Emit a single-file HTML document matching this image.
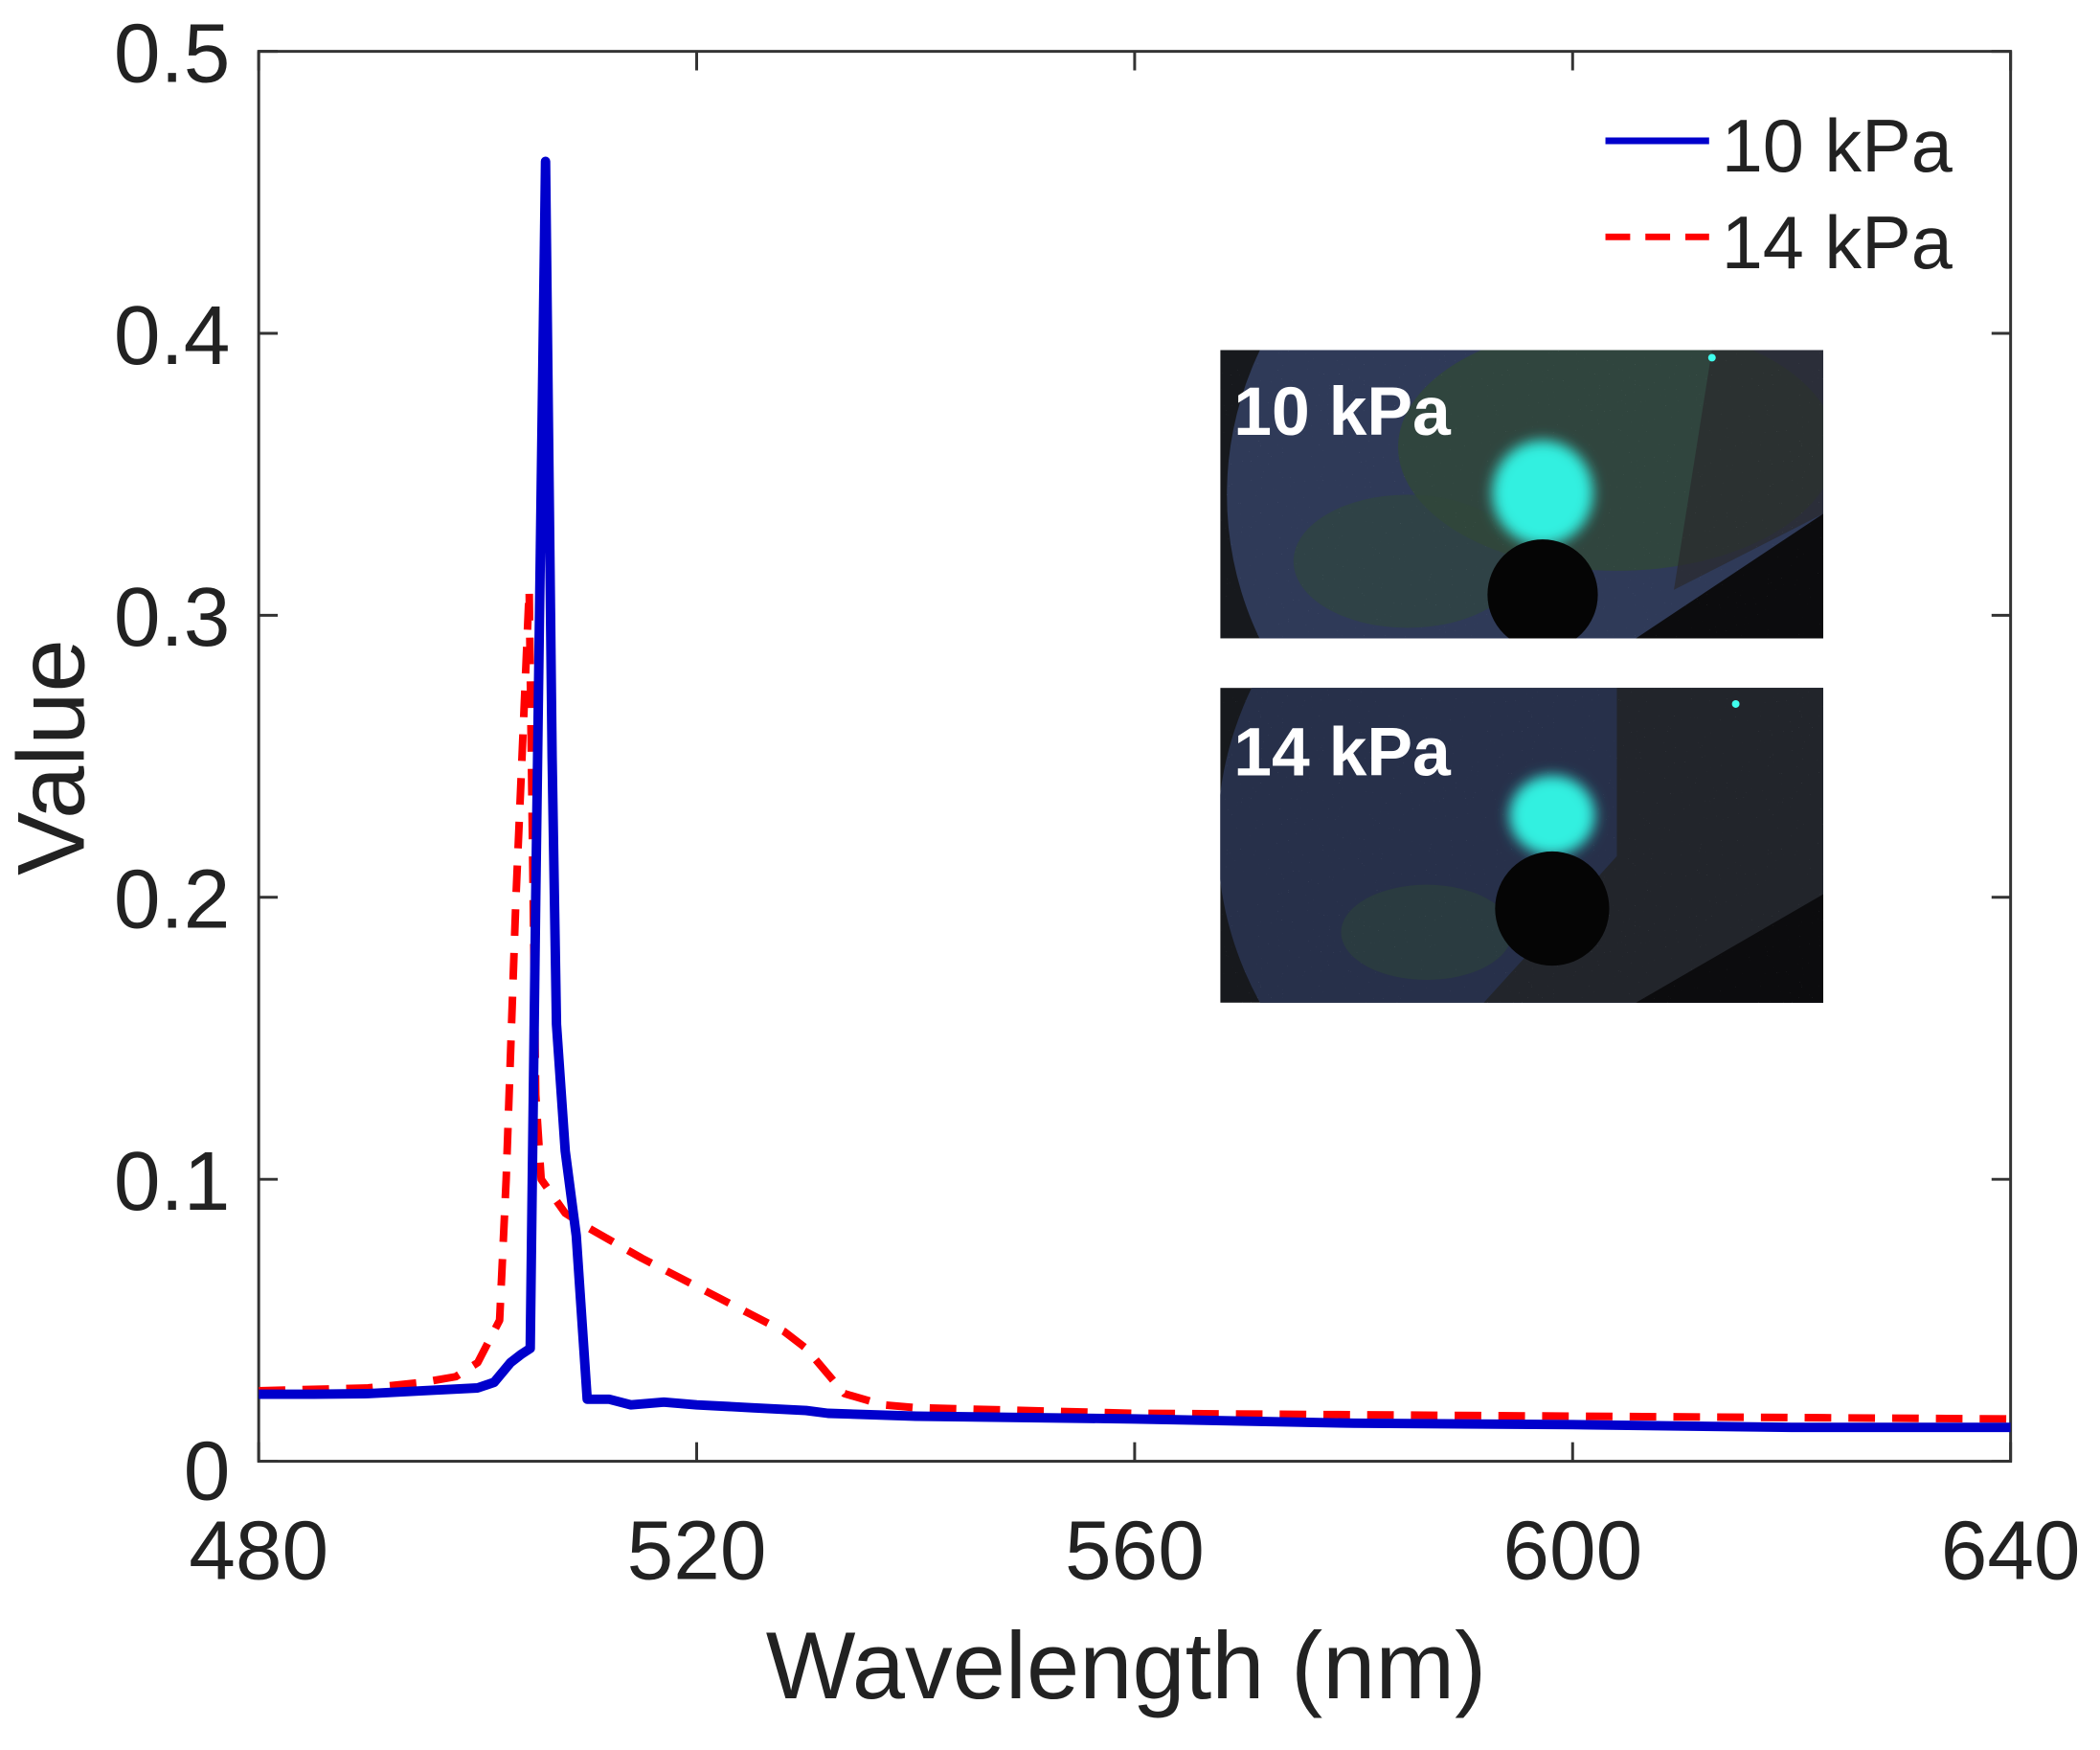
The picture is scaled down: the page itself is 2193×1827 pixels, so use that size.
<!DOCTYPE html>
<html><head><meta charset="utf-8"><style>
html,body{margin:0;padding:0;background:#fff}
svg{display:block}
text{font-family:"Liberation Sans",Arial,sans-serif}
</style></head><body>
<svg id="chart" width="2193" height="1827" viewBox="0 0 2208 1839" preserveAspectRatio="xMinYMin meet" xmlns="http://www.w3.org/2000/svg">
<defs>
<clipPath id="c1"><rect x="1283" y="368" width="634" height="303"/></clipPath>
<clipPath id="c2"><rect x="1283" y="723" width="634" height="331"/></clipPath>
<clipPath id="plotclip"><rect x="272" y="54" width="1842" height="1482"/></clipPath>
<filter id="blur" x="-50%" y="-50%" width="200%" height="200%"><feGaussianBlur stdDeviation="7"/></filter>
<filter id="noise"><feTurbulence type="fractalNoise" baseFrequency="0.9" numOctaves="1" seed="3"/><feColorMatrix values="0 0 0 0 1 0 0 0 0 1 0 0 0 0 1 0 0 0 6 -4.6"/></filter>
</defs>
<g id="axes"></g>
<g id="series" clip-path="url(#plotclip)"></g>

<g clip-path="url(#c1)">
  <rect x="1283" y="368" width="634" height="303" fill="#17191d"/>
  <circle cx="1640" cy="520" r="350" fill="#2f3a58"/>
  <ellipse cx="1700" cy="470" rx="230" ry="130" fill="#30483a" opacity="0.85"/>
  <ellipse cx="1480" cy="590" rx="120" ry="70" fill="#30483a" opacity="0.6"/>
  <polygon points="1720,671 1917,540 1917,671" fill="#0c0c0e"/>
  <polygon points="1800,368 1917,368 1917,540 1760,620" fill="#2a2a2c" opacity="0.7"/>
  <rect x="1283" y="368" width="634" height="303" filter="url(#noise)" opacity="0.5"/>
  <ellipse cx="1622" cy="518" rx="53" ry="55" fill="#30f0e0" filter="url(#blur)"/>
  <circle cx="1800" cy="376" r="4" fill="#40ffee"/>
  <circle cx="1622" cy="625" r="58" fill="#050505"/>
  <text x="1297" y="457" font-size="72" font-weight="bold" fill="#fff">10 kPa</text>
</g>
<g clip-path="url(#c2)">
  <rect x="1283" y="723" width="634" height="331" fill="#17191d"/>
  <circle cx="1640" cy="880" r="360" fill="#27304a"/>
  <polygon points="1700,723 1917,723 1917,1054 1560,1054 1700,900" fill="#222326" opacity="0.85"/>
  <polygon points="1720,1054 1917,940 1917,1054" fill="#0c0c0e"/>
  <ellipse cx="1500" cy="980" rx="90" ry="50" fill="#2e4536" opacity="0.5"/>
  <rect x="1283" y="723" width="634" height="331" filter="url(#noise)" opacity="0.5"/>
  <ellipse cx="1632" cy="857" rx="45" ry="42" fill="#30f0e0" filter="url(#blur)"/>
  <circle cx="1825" cy="740" r="4" fill="#40ffee"/>
  <circle cx="1632" cy="955" r="60" fill="#050505"/>
  <text x="1297" y="815" font-size="72" font-weight="bold" fill="#fff">14 kPa</text>
</g>

<g>
  <line x1="1688" y1="148" x2="1797" y2="148" stroke="#0000cc" stroke-width="7"/>
  <text x="1810" y="180" font-size="78" fill="#222">10 kPa</text>
  <line x1="1688" y1="249" x2="1797" y2="249" stroke="#ff0000" stroke-width="7" stroke-dasharray="26 16"/>
  <text x="1810" y="282" font-size="78" fill="#222">14 kPa</text>
</g>
<text x="1184" y="1785" font-size="100" fill="#222" text-anchor="middle">Wavelength (nm)</text>
<text transform="translate(88,796) rotate(-90)" font-size="100" fill="#222" text-anchor="middle">Value</text>
</svg>
<script>
const xTicks = [480, 520, 560, 600, 640];
const yTicks = [0, 0.1, 0.2, 0.3, 0.4, 0.5];
const yTickLabels = ["0", "0.1", "0.2", "0.3", "0.4", "0.5"];
const wl10 = [480, 485, 490, 495, 500, 501.5, 503, 504, 504.8, 505.3, 506.2, 506.8, 507.2, 508, 509, 510, 512, 514, 517, 520, 525, 530, 532, 540, 560, 580, 600, 620, 640];
const val10 = [0.0238, 0.0238, 0.024, 0.025, 0.026, 0.028, 0.035, 0.038, 0.04, 0.2, 0.461, 0.25, 0.155, 0.11, 0.08, 0.022, 0.022, 0.02, 0.021, 0.02, 0.019, 0.018, 0.017, 0.016, 0.015, 0.0135, 0.013, 0.012, 0.012];
const wl14 = [480, 490, 495, 498, 500, 502, 502.6, 503.5, 504.7, 505.3, 505.8, 508, 510, 515, 520, 525, 528, 530, 533.5, 537, 540, 560, 600, 640];
const val14 = [0.025, 0.026, 0.028, 0.03, 0.035, 0.05, 0.1, 0.2, 0.309, 0.13, 0.1, 0.088, 0.083, 0.072, 0.062, 0.052, 0.046, 0.04, 0.024, 0.02, 0.019, 0.017, 0.016, 0.015];

const L = 272, R = 2114, T = 54, B = 1536;
const xs = v => L + (v - 480) / 160 * (R - L);
const ys = v => B - v / 0.5 * (B - T);
const NS = "http://www.w3.org/2000/svg";
const axes = document.getElementById('axes');
const series = document.getElementById('series');
function mk(tag, attrs, parent) {
  const e = document.createElementNS(NS, tag);
  for (const k in attrs) e.setAttribute(k, attrs[k]);
  parent.appendChild(e);
  return e;
}
const frame = mk('rect', {x: L, y: T, width: R - L, height: B - T, fill: 'none', stroke: '#333', 'stroke-width': 3}, axes);


xTicks.forEach((t, i) => {
  const x = xs(t);
  const a = mk('line', {x1: x, y1: B, x2: x, y2: B - 20, stroke: '#333', 'stroke-width': 3}, axes);
  
  
  const b = mk('line', {x1: x, y1: T, x2: x, y2: T + 20, stroke: '#333', 'stroke-width': 3}, axes);
  
  
  const tx = mk('text', {x: x, y: 1660, 'font-size': 88, fill: '#222', 'text-anchor': 'middle'}, axes);
  tx.textContent = String(t);
  
  
});
yTicks.forEach((t, i) => {
  const y = ys(t);
  const a = mk('line', {x1: L, y1: y, x2: L + 20, y2: y, stroke: '#333', 'stroke-width': 3}, axes);
  
  
  const b = mk('line', {x1: R, y1: y, x2: R - 20, y2: y, stroke: '#333', 'stroke-width': 3}, axes);
  
  
  const tx = mk('text', {x: 242, y: y + 32 + (t === 0 ? 8 : 0), 'font-size': 88, fill: '#222', 'text-anchor': 'end'}, axes);
  tx.textContent = yTickLabels[i];
  
  
});
function pathFor(wl, v) {
  return wl.map((w, i) => (i ? 'L' : 'M') + xs(w).toFixed(1) + ' ' + ys(v[i]).toFixed(1)).join(' ');
}
const p14 = mk('path', {d: pathFor(wl14, val14), fill: 'none', stroke: '#ff0000', 'stroke-width': 8, 'stroke-dasharray': '28 18', 'stroke-linejoin': 'round'}, series);


const p10 = mk('path', {d: pathFor(wl10, val10), fill: 'none', stroke: '#0000cc', 'stroke-width': 10, 'stroke-linejoin': 'round'}, series);


</script>
</body></html>
